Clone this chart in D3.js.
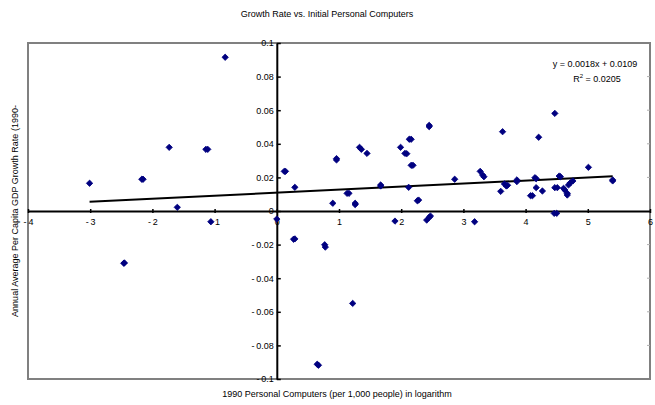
<!DOCTYPE html>
<html>
<head>
<meta charset="utf-8">
<script src="https://cdn.jsdelivr.net/npm/d3@7/dist/d3.min.js"></script>
<style>
  html, body { margin: 0; padding: 0; background: #fff; }
  svg { display: block; font-family: "Liberation Sans", Arial, sans-serif; }
</style>
</head>
<body>
<svg id="chart" width="655" height="405"></svg>
<script>
// Log of 1990 personal computers per 1,000 people
const logPC = [
  -3.01, -2.46, -2.45, -2.17, -2.15, -1.73, -1.60, -1.14, -1.11, -1.06, -0.83,
  0.00, 0.12, 0.14, 0.27, 0.29, 0.29, 0.77, 0.78, 0.65, 0.67, 0.90, 0.96, 0.96,
  1.13, 1.16, 1.22, 1.26, 1.26, 1.33, 1.36, 1.45, 1.67, 1.67, 1.90, 1.99, 2.06,
  2.09, 2.12, 2.13, 2.16, 2.16, 2.19, 2.26, 2.28, 2.41, 2.45, 2.47, 2.45, 2.45,
  2.86, 3.18, 3.27, 3.31, 3.33, 3.60, 3.63, 3.66, 3.69, 3.71, 3.86, 3.86, 4.08,
  4.11, 4.15, 4.17, 4.17, 4.21, 4.27, 4.47, 4.47, 4.51, 4.46, 4.50, 4.54, 4.56,
  4.61, 4.63, 4.67, 4.67, 4.69, 4.72, 4.76, 5.01, 5.40, 5.40
];
// Annual average per capita GDP growth rate
const growth = [
  0.0165, -0.0311, -0.0309, 0.0189, 0.0189, 0.0379, 0.0022, 0.0367, 0.0367, -0.0064, 0.0915,
  -0.0048, 0.0236, 0.0236, -0.0168, -0.0166, 0.0141, -0.0201, -0.0215, -0.0912, -0.0918, 0.0046, 0.0304, 0.0312,
  0.0105, 0.0105, -0.0550, 0.0038, 0.0046, 0.0379, 0.0367, 0.0343, 0.0149, 0.0155, -0.0060, 0.0379, 0.0343,
  0.0341, 0.0141, 0.0427, 0.0427, 0.0272, 0.0272, 0.0061, 0.0065, -0.0054, -0.0038, -0.0030, 0.0502, 0.0510,
  0.0189, -0.0064, 0.0236, 0.0214, 0.0204, 0.0117, 0.0472, 0.0161, 0.0149, 0.0153, 0.0185, 0.0175, 0.0091,
  0.0091, 0.0198, 0.0192, 0.0139, 0.0439, 0.0119, 0.0581, 0.0139, 0.0139, -0.0014, -0.0014, 0.0208, 0.0204,
  0.0135, 0.0125, 0.0095, 0.0105, 0.0155, 0.0168, 0.0179, 0.0260, 0.0179, 0.0185
];
// Linear trend fitted to the points
const trendSlope = 0.0018;
const trendIntercept = 0.0109;
const trendRange = [-3.01, 5.40];

const xTicks = [-4, -3, -2, -1, 0, 1, 2, 3, 4, 5, 6];
const yTicks = [-0.1, -0.08, -0.06, -0.04, -0.02, 0, 0.02, 0.04, 0.06, 0.08, 0.1];

const titleText = "Growth Rate vs. Initial Personal Computers";
const xTitle = "1990 Personal Computers (per 1,000 people) in logarithm";
const yTitle = "Annual Average Per Capita GDP Growth Rate (1990-";
const eqLine1 = "y = 0.0018x + 0.0109";

const svg = d3.select("#chart");
const plot = { left: 28, right: 650, top: 43, bottom: 379 };

const x = d3.scaleLinear().domain([-4, 6]).range([plot.left, plot.right]);
const y = d3.scaleLinear().domain([-0.1, 0.1]).range([plot.bottom, plot.top]);

// Negative labels get a narrow gap after the minus sign
const spacedMinus = s => s.replace(/^[-−]/, "-\u2009");

// Plot frame
svg.append("rect")
  .attr("x", plot.left).attr("y", plot.top)
  .attr("width", plot.right - plot.left).attr("height", plot.bottom - plot.top)
  .attr("fill", "#fff").attr("stroke", "#808080").attr("stroke-width", 2);

// Small marks on the right edge of the frame
svg.append("g").selectAll("line")
  .data(yTicks.filter(v => Math.abs(v) > 1e-9 && Math.abs(v) < 0.099))
  .join("line")
  .attr("x1", plot.right - 3).attr("x2", plot.right)
  .attr("y1", d => y(d)).attr("y2", d => y(d))
  .attr("stroke", "#b0b0b0").attr("stroke-width", 1);

// Title
svg.append("text")
  .attr("x", 327).attr("y", 17)
  .attr("text-anchor", "middle").attr("font-size", 9).attr("fill", "#000")
  .text(titleText);

// Axis titles
svg.append("text")
  .attr("x", 337).attr("y", 397)
  .attr("text-anchor", "middle").attr("font-size", 9).attr("fill", "#000")
  .text(xTitle);

svg.append("text")
  .attr("transform", "translate(18,211) rotate(-90)")
  .attr("text-anchor", "middle").attr("font-size", 9).attr("fill", "#000")
  .text(yTitle);

// X axis through y = 0
const xAxis = d3.axisBottom(x).tickValues(xTicks)
  .tickFormat(d => spacedMinus(d3.format("d")(d)))
  .tickSizeInner(2).tickSizeOuter(0).tickPadding(6);
const gx = svg.append("g").attr("transform", `translate(0,${y(0)})`).call(xAxis);
gx.select(".domain").attr("stroke", "#000").attr("stroke-width", 2);
gx.selectAll(".tick line").attr("stroke", "#000").attr("y1", -2).attr("stroke-width", 1.5);
gx.selectAll(".tick text").attr("font-size", 9).attr("fill", "#000")
  .attr("font-family", "Liberation Sans, Arial, sans-serif");

// Y axis through x = 0
const yAxis = d3.axisLeft(y).tickValues(yTicks)
  .tickFormat(d => Math.abs(d) < 1e-9 ? "0" : spacedMinus(String(+d.toFixed(2))))
  .tickSizeInner(0).tickSizeOuter(0).tickPadding(3);
const gy = svg.append("g").attr("transform", `translate(${x(0)},0)`).call(yAxis);
gy.select(".domain").attr("stroke", "#000").attr("stroke-width", 2);
gy.selectAll(".tick line").attr("stroke", "#000").attr("x1", 0).attr("x2", 4).attr("stroke-width", 1.5);
gy.selectAll(".tick text").attr("font-size", 9).attr("fill", "#000")
  .attr("font-family", "Liberation Sans, Arial, sans-serif");

// Trend line
svg.append("line")
  .attr("x1", x(trendRange[0])).attr("y1", y(trendSlope * trendRange[0] + trendIntercept))
  .attr("x2", x(trendRange[1])).attr("y2", y(trendSlope * trendRange[1] + trendIntercept))
  .attr("stroke", "#000").attr("stroke-width", 2);

// Data points as diamonds
const diamond = d3.symbol().type(d3.symbolSquare).size(20);
svg.append("g").selectAll("path")
  .data(logPC.map((v, i) => [v, growth[i]]))
  .join("path")
  .attr("d", diamond)
  .attr("transform", d => `translate(${x(d[0])},${y(d[1])}) rotate(45)`)
  .attr("fill", "#000080").attr("stroke", "#000080").attr("stroke-width", 0.8);

// Regression equation
const eq = svg.append("text").attr("text-anchor", "middle").attr("font-size", 9).attr("fill", "#000");
eq.append("tspan").attr("x", 595).attr("y", 67).text(eqLine1);
const r2 = svg.append("text").attr("x", 597).attr("y", 82)
  .attr("text-anchor", "middle").attr("font-size", 9).attr("fill", "#000");
r2.append("tspan").text("R");
r2.append("tspan").attr("font-size", 6).attr("dy", -4).text("2");
r2.append("tspan").attr("dy", 4).text(" = 0.0205");
</script>
</body>
</html>
